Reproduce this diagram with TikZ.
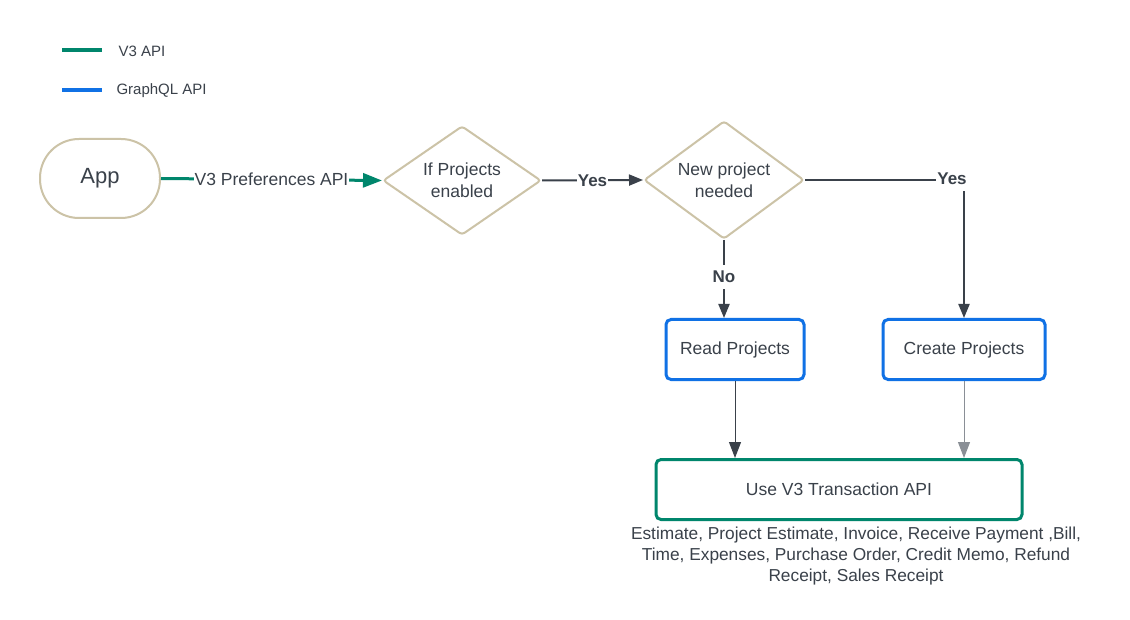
\documentclass[tikz,border=0pt]{standalone}
\usepackage{fontspec}
\setmainfont{Liberation Sans}
\usetikzlibrary{shapes.geometric,arrows.meta}
\definecolor{vgreen}{HTML}{00866C}
\definecolor{gblue}{HTML}{1071E5}
\definecolor{beige}{HTML}{CCC3A7}
\definecolor{ink}{HTML}{3A414A}
\definecolor{lgray}{HTML}{8A8F96}
\begin{document}
\begin{tikzpicture}[x=1pt,y=-1pt,
  every node/.style={text=ink},
  txt/.style={font=\fontsize{17.5}{21}\selectfont},
  legtxt/.style={font=\fontsize{15}{18}\selectfont,anchor=west},
  appnode/.style={draw=beige,line width=2pt,rounded corners=39pt,minimum width=120pt,minimum height=79pt,font=\fontsize{22}{26}\selectfont},
  decision/.style={draw=beige,line width=2pt,shape=diamond,inner sep=0pt,rounded corners=3pt,align=center,font=\fontsize{17.5}{22}\selectfont},
  gqlbox/.style={draw=gblue,line width=3pt,rounded corners=5pt,minimum height=60pt,txt},
  v3box/.style={draw=vgreen,line width=3pt,rounded corners=5pt,minimum height=60pt,txt},
  v3flow/.style={draw=vgreen,line width=3pt,-{Triangle[length=19pt,width=14pt]}},
  flow/.style={draw=ink,line width=2pt,-{Triangle[length=14pt,width=11pt]}},
  thinflow/.style={line width=1pt,-{Triangle[length=16pt,width=12pt]}},
  lbl/.style={fill=white,inner xsep=1pt,inner ysep=6pt,font=\fontsize{17}{20}\selectfont\bfseries}
]
\fill[white] (0,0) rectangle (1130,620);
\useasboundingbox (0,0) rectangle (1130,620);

% legend
\coordinate (l1a) at (62,50); \coordinate (l1b) at (102,50);
\coordinate (l2a) at (62,90); \coordinate (l2b) at (102,90);
\draw[vgreen,line width=4pt] (l1a) -- (l1b);
\draw[gblue,line width=4pt] (l2a) -- (l2b);
\node[legtxt] (l1t) at (115,51) {V3 API};
\node[legtxt] (l2t) at (113,91) {GraphQL API};

% nodes
\node[appnode] (app) at (100,178.5) {App};
\node[decision,aspect=1.46,minimum width=158pt,minimum height=109pt] (d1) at (462,180.5) {If Projects\\enabled};
\node[decision,aspect=1.36,minimum width=160pt,minimum height=118pt] (d2) at (724,180) {New project\\needed};
\node[gqlbox,minimum width=138pt] (read) at (735,349.5) {Read Projects};
\node[gqlbox,minimum width=162pt] (create) at (964,349.5) {Create Projects};
\node[v3box,minimum width=366pt] (use) at (839,489.5) {Use V3 Transaction API};
\node[font=\fontsize{17.3}{21}\selectfont,align=center] (list) at (856,556) {Estimate, Project Estimate, Invoice, Receive Payment ,Bill,\\Time, Expenses, Purchase Order, Credit Memo, Refund\\Receipt, Sales Receipt};

% connectors
\draw[v3flow] (app.east) -- node[txt,fill=white,inner sep=1pt] {V3 Preferences API} (d1.west);
\draw[flow] (d1.east) -- node[lbl] {Yes} (d2.west);
\draw[flow] (d2.east) -| node[lbl,pos=0.5,xshift=-12pt,yshift=1pt] {Yes} (create.north);
\draw[flow] (d2.south) -- node[lbl,pos=0.47] {No} (d2.south |- read.north);
\draw[thinflow,draw=ink] (read.south) -- (read.south |- use.north);
\draw[thinflow,draw=lgray] (create.south) -- (create.south |- use.north);
\end{tikzpicture}
\end{document}
